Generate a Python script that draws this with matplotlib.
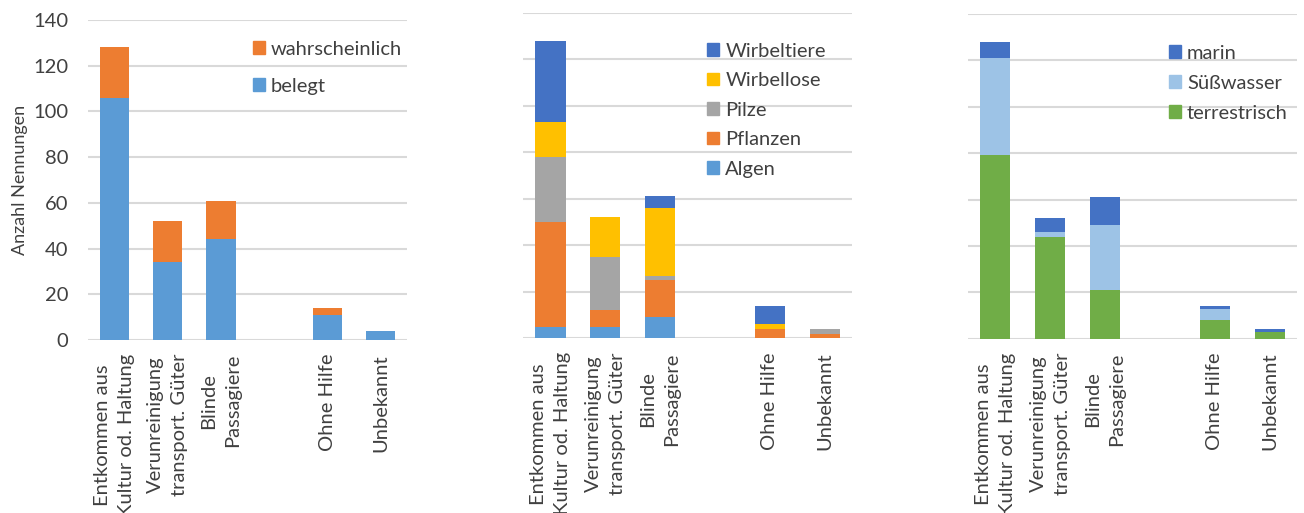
import matplotlib.pyplot as plt
from matplotlib.patches import Patch

plt.rcParams['font.family'] = ['Lato', 'DejaVu Sans']

kategorien = ["Entkommen aus\nKultur od. Haltung", "Verunreinigung\ntransport. Güter",
              "Blinde\nPassagiere", "", "Ohne Hilfe", "Unbekannt"]

# Panel 1: Nachweis
belegt = [106, 34, 44, 0, 11, 4]
wahrscheinlich = [22, 18, 17, 0, 3, 0]

# Panel 2: Organismengruppe
algen = [5, 5, 9, 0, 0, 0]
pflanzen = [45, 7, 16, 0, 4, 2]
pilze = [28, 23, 2, 0, 0, 2]
wirbellose = [15, 17, 29, 0, 2, 0]
wirbeltiere = [35, 0, 5, 0, 8, 0]

# Panel 3: Lebensraum
terrestrisch = [79, 44, 21, 0, 8, 3]
suesswasser = [42, 2, 28, 0, 5, 0]
marin = [7, 6, 12, 0, 1, 1]

txt = '#404040'
grid = '#d9d9d9'
fs = 14.5

fig = plt.figure(figsize=(13.04, 5.13), dpi=100)
ax1 = fig.add_axes([0.0675, 0.3372, 0.2446, 0.6238])
ax2 = fig.add_axes([0.4011, 0.3405, 0.2523, 0.6347])
ax3 = fig.add_axes([0.7421, 0.3398, 0.2528, 0.6330])


def stapel(ax, reihen, namen, farben):
    x = range(len(kategorien))
    unten = [0] * len(kategorien)
    for werte, farbe in zip(reihen, farben):
        ax.bar(x, werte, 0.55, bottom=unten, color=farbe, zorder=3)
        unten = [u + w for u, w in zip(unten, werte)]
    ax.set_xlim(-0.5, len(kategorien) - 0.5)
    ax.set_ylim(0, 140)
    ax.set_yticks(range(0, 141, 20))
    ax.grid(axis='y', color=grid, linewidth=1.5, zorder=0)
    ax.set_axisbelow(True)
    for s in ax.spines.values():
        s.set_visible(False)
    ax.set_xticks(list(x))
    ax.set_xticklabels(kategorien, rotation=90, ha='center', va='top',
                       multialignment='center', fontsize=fs, color=txt,
                       linespacing=1.5)
    ax.tick_params(length=0, pad=10)
    griffe = [Patch(color=f) for f in farben][::-1]
    return griffe, namen[::-1]


g, n = stapel(ax1, [belegt, wahrscheinlich], ["belegt", "wahrscheinlich"],
              ['#5b9bd5', '#ed7d31'])
ax1.legend(g, n, loc='upper left', bbox_to_anchor=(0.516, 0.935), frameon=False,
           fontsize=fs, labelcolor=txt, handlelength=0.6, handleheight=0.6,
           handletextpad=0.3, labelspacing=1.0, borderpad=0, borderaxespad=0)
ax1.tick_params(axis='y', labelsize=fs, labelcolor=txt, pad=14)
ax1.set_ylabel("Anzahl Nennungen", fontsize=13, color=txt, labelpad=4)

g, n = stapel(ax2, [algen, pflanzen, pilze, wirbellose, wirbeltiere],
              ["Algen", "Pflanzen", "Pilze", "Wirbellose", "Wirbeltiere"],
              ['#5b9bd5', '#ed7d31', '#a5a5a5', '#ffc000', '#4472c4'])
ax2.legend(g, n, loc='upper left', bbox_to_anchor=(0.56, 0.908), frameon=False,
           fontsize=fs, labelcolor=txt, handlelength=0.6, handleheight=0.6,
           handletextpad=0.3, labelspacing=0.62, borderpad=0, borderaxespad=0)
ax2.set_yticklabels([])

g, n = stapel(ax3, [terrestrisch, suesswasser, marin],
              ["terrestrisch", "Süßwasser", "marin"],
              ['#70ad47', '#9dc3e6', '#4472c4'])
ax3.legend(g, n, loc='upper left', bbox_to_anchor=(0.61, 0.905), frameon=False,
           fontsize=fs, labelcolor=txt, handlelength=0.6, handleheight=0.6,
           handletextpad=0.3, labelspacing=0.65, borderpad=0, borderaxespad=0)
ax3.set_yticklabels([])

fig.savefig('out.png', dpi=100)
